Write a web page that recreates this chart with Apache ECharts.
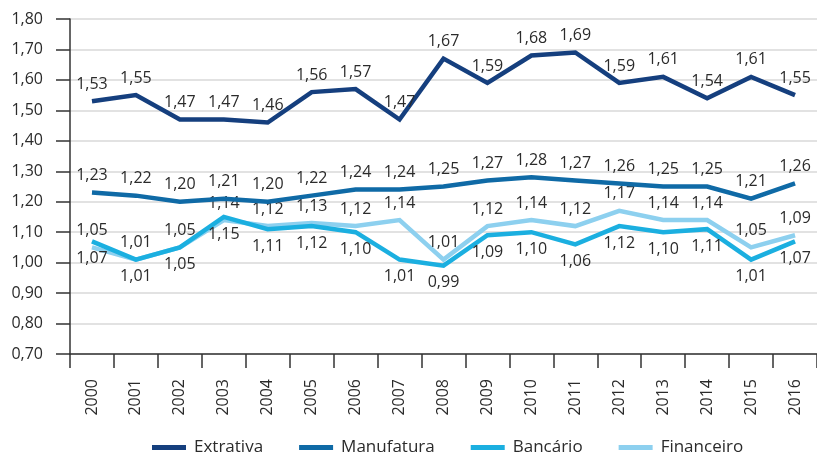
<!DOCTYPE html>
<html>
<head>
<meta charset="utf-8">
<script src="https://cdn.jsdelivr.net/npm/echarts@6/dist/echarts.min.js"></script>
<style>
  html, body { margin: 0; padding: 0; background: #fff; }
  #chart { width: 817px; height: 452px; }
</style>
</head>
<body>
<div id="chart"></div>
<script>
// Years on the x axis
const years = ['2000', '2001', '2002', '2003', '2004', '2005', '2006', '2007', '2008',
    '2009', '2010', '2011', '2012', '2013', '2014', '2015', '2016'];

// Series values
const extrativa = [1.53, 1.55, 1.47, 1.47, 1.46, 1.56, 1.57, 1.47, 1.67, 1.59, 1.68, 1.69, 1.59, 1.61, 1.54, 1.61, 1.55];
const manufatura = [1.23, 1.22, 1.20, 1.21, 1.20, 1.22, 1.24, 1.24, 1.25, 1.27, 1.28, 1.27, 1.26, 1.25, 1.25, 1.21, 1.26];
const bancario = [1.07, 1.01, 1.05, 1.15, 1.11, 1.12, 1.10, 1.01, 0.99, 1.09, 1.10, 1.06, 1.12, 1.10, 1.11, 1.01, 1.07];
const financeiro = [1.05, 1.01, 1.05, 1.14, 1.12, 1.13, 1.12, 1.14, 1.01, 1.12, 1.14, 1.12, 1.17, 1.14, 1.14, 1.05, 1.09];

const FONT = '"Open Sans", "Noto Sans", sans-serif';
const TEXT = '#2b2b2b';

// comma as decimal separator
function fmt(v) {
    return v.toFixed(2).replace('.', ',');
}

function lineSeries(name, data, color, labelPos, z) {
    return {
        name: name,
        type: 'line',
        data: data,
        symbol: 'circle',
        symbolSize: 0,
        showSymbol: true,
        z: z,
        lineStyle: { width: 4.5, color: color, join: 'miter' },
        itemStyle: { color: color },
        label: {
            show: true,
            position: labelPos,
            distance: 9,
            color: TEXT,
            fontFamily: FONT,
            fontSize: 16,
            formatter: p => fmt(p.value)
        },
        labelLayout: { hideOverlap: false }
    };
}

const chart = echarts.init(document.getElementById('chart'));

chart.setOption({
    animation: false,
    textStyle: { fontFamily: FONT },
    grid: { left: 70, top: 19, width: 751, height: 335, containLabel: false },
    legend: {
        top: 434,
        left: 147,
        itemWidth: 34,
        itemHeight: 5,
        itemGap: 36,
        icon: 'rect',
        textStyle: { color: TEXT, fontSize: 17, fontFamily: FONT, padding: [0, 0, 0, 3] },
        data: ['Extrativa', 'Manufatura', 'Bancário', 'Financeiro']
    },
    xAxis: {
        type: 'category',
        data: years,
        boundaryGap: true,
        axisLine: { lineStyle: { color: '#333', width: 1.5 } },
        axisTick: { show: true, length: 14, lineStyle: { color: '#333', width: 1.5 } },
        axisLabel: { rotate: 90, color: TEXT, fontSize: 16, margin: 25, interval: 0 },
        splitLine: { show: false }
    },
    yAxis: {
        type: 'value',
        min: 0.7,
        max: 1.8,
        interval: 0.1,
        axisLine: { show: true, lineStyle: { color: '#333', width: 1.5 } },
        axisTick: { show: true, length: 14, lineStyle: { color: '#333', width: 1.5 } },
        axisLabel: { color: TEXT, fontSize: 16, margin: 27, formatter: v => fmt(v) },
        splitLine: { show: true, lineStyle: { color: '#d9d9d9', width: 1.5 } }
    },
    series: [
        lineSeries('Extrativa', extrativa, '#153f7e', 'top', 4),
        lineSeries('Manufatura', manufatura, '#0f6aa6', 'top', 3),
        lineSeries('Bancário', bancario, '#1bafe0', 'bottom', 2),
        lineSeries('Financeiro', financeiro, '#8dd0ef', 'top', 1)
    ]
});

window.addEventListener('resize', function() {
    chart.resize();
});
</script>
</body>
</html>
